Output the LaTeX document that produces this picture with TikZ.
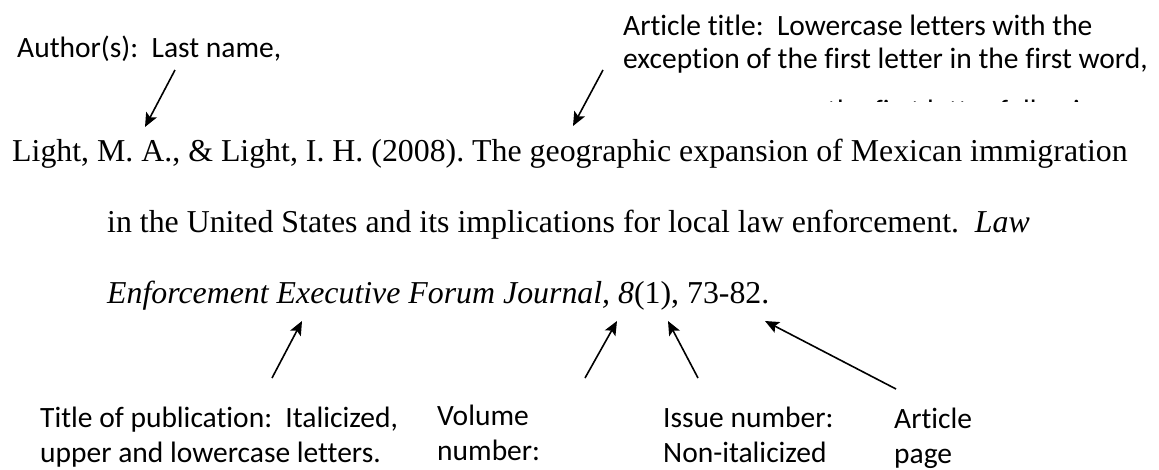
\documentclass[tikz,border=0pt]{standalone}
\usepackage{fontspec}
\setmainfont{Liberation Serif}
\newfontfamily\labfont{Carlito}[Ligatures={NoCommon}]
\usetikzlibrary{arrows.meta}
\begin{document}
\frenchspacing
\begin{tikzpicture}[x=1pt,y=-1pt,
  reftext/.style={anchor=base west, inner sep=0pt, font=\fontsize{31.85}{31.85}\selectfont},
  labtext/.style={anchor=base west, inner sep=0pt, font=\labfont\fontsize{29.5}{29.5}\selectfont},
  pointer/.style={line width=1.6pt, -{Stealth[length=14pt,width=12pt,inset=3pt]}}]
\useasboundingbox (0,0) rectangle (1159,469);
% top labels
\node[labtext] (author) at (17,57) {Author(s):\ \ Last name,};
\node[labtext] (arttitleA) at (623,35) {Article title:\ \ Lowercase letters with the};
\node[labtext] (arttitleB) at (623,68) {exception of the first letter in the first word,};
\begin{scope}
  \clip (600,0) rectangle (1159,101);
  \node[labtext] (arttitleC) at (827,120) {the first letter following};
\end{scope}
% reference text
\node[reftext] (lineA) at (12,161) {Light, M. A., \& Light, I. H. (2008). The geographic expansion of Mexican immigration};
\node[reftext] (lineB) at (107,232) {in the United States and its implications for local law enforcement.\ \ \textit{Law}};
\node[reftext] (lineC) at (107,303) {\textit{Enforcement Executive Forum Journal, 8}(1), 73-82.};
% bottom labels
\node[labtext] (pubA) at (40,427) {Title of publication:\ \ Italicized,};
\node[labtext] (pubB) at (40,462) {upper and lowercase letters.};
\node[labtext] (volA) at (437,425) {Volume};
\node[labtext] (volB) at (437,460) {number:};
\node[labtext] (issA) at (663,427) {Issue number:};
\node[labtext] (issB) at (663,462) {Non-italicized};
\node[labtext] (pgA) at (894,428) {Article};
\node[labtext] (pgB) at (894,463) {page};
% arrow ends
\coordinate (authT) at (175,70);   \coordinate (authH) at (145,127);
\coordinate (artT) at (603,70);    \coordinate (artH) at (573,126);
\coordinate (pubT) at (272,378);   \coordinate (pubH) at (302,321);
\coordinate (volT) at (585,378);   \coordinate (volH) at (617,321);
\coordinate (issT) at (698,378);   \coordinate (issH) at (668,321);
\coordinate (pgT) at (896,389);    \coordinate (pgH) at (765,321);
\draw[pointer] (authT) -- (authH);
\draw[pointer] (artT) -- (artH);
\draw[pointer] (pubT) -- (pubH);
\draw[pointer] (volT) -- (volH);
\draw[pointer] (issT) -- (issH);
\draw[pointer] (pgT) -- (pgH);
\end{tikzpicture}
\end{document}
